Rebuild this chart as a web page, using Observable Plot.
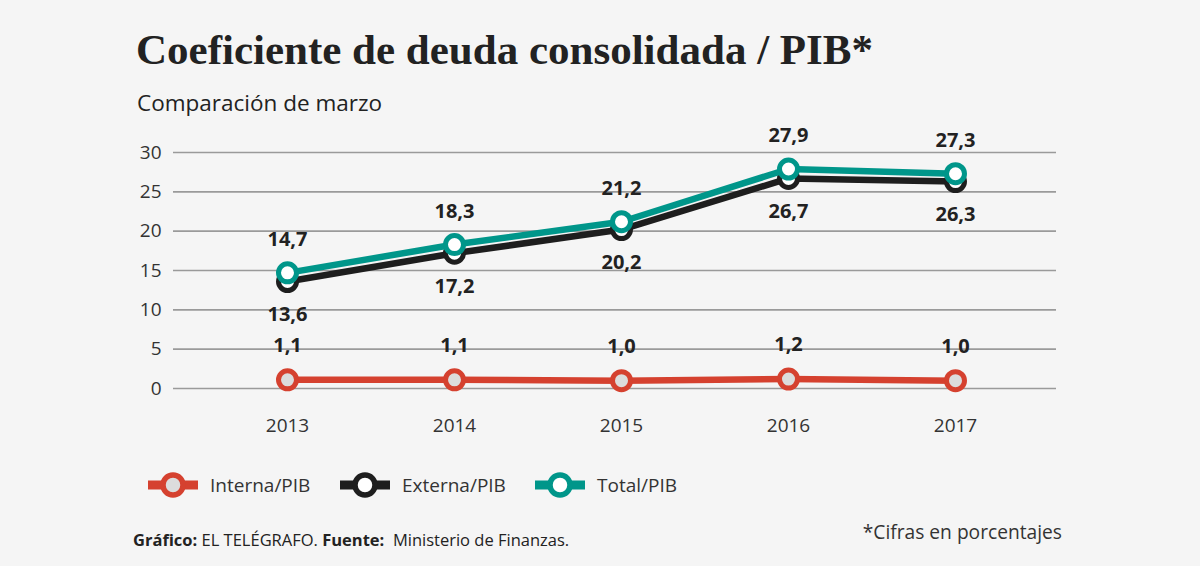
<!DOCTYPE html>
<html><head><meta charset="utf-8">
<script src="https://cdn.jsdelivr.net/npm/d3@7"></script>
<script src="https://cdn.jsdelivr.net/npm/@observablehq/plot@0.6"></script>
<style>
html,body{margin:0;padding:0;background:#f5f5f5;}
#wrap{position:relative;width:1200px;height:566px;overflow:hidden;background:#f5f5f5;font-family:"Open Sans",sans-serif;color:#222;}
#title{position:absolute;left:136px;top:28px;font-family:"Liberation Serif",serif;font-weight:bold;font-size:43px;line-height:1;color:#222;white-space:nowrap;}
#subtitle{position:absolute;left:137px;top:87px;font-size:22.5px;color:#222;white-space:nowrap;}
#chart{position:absolute;left:0;top:120px;}
#legend{position:absolute;left:0;top:470px;width:1200px;height:30px;}
.li{position:absolute;top:0;height:30px;display:flex;align-items:center;font-size:19px;color:#333;}
.li svg{margin-right:12px;}
#source{position:absolute;left:133px;top:528px;font-size:16.5px;color:#222;white-space:nowrap;}
#note{position:absolute;right:138px;top:518px;font-size:19.2px;color:#333;white-space:nowrap;}
</style></head>
<body><div id="wrap">
<div id="title">Coeficiente de deuda consolidada / PIB*</div>
<div id="subtitle">Comparación de marzo</div>
<div id="chart"></div>
<div id="legend"></div>
<div id="source"><b>Gráfico:</b> EL TELÉGRAFO. <b>Fuente:</b>&nbsp; Ministerio de Finanzas.</div>
<div id="note">*Cifras en porcentajes</div>
</div>
<script>
const years = [2013, 2014, 2015, 2016, 2017];
const interna = [1.1, 1.1, 1.0, 1.2, 1.0];
const externa = [13.6, 17.2, 20.2, 26.7, 26.3];
const total = [14.7, 18.3, 21.2, 27.9, 27.3];
const yTicks = [0, 5, 10, 15, 20, 25, 30];
const seriesNames = ["Interna/PIB", "Externa/PIB", "Total/PIB"];
const colors = {"Interna/PIB": "#d5412f", "Externa/PIB": "#1e1e1e", "Total/PIB": "#00968a"};
const fills = {"Interna/PIB": "#dcdcdc", "Externa/PIB": "#ffffff", "Total/PIB": "#ffffff"};

const rows = (name, vals) => years.map((y, i) => ({year: y, value: vals[i], series: name}));
const dInt = rows("Interna/PIB", interna);
const dExt = rows("Externa/PIB", externa);
const dTot = rows("Total/PIB", total);
const fmt = v => v.toFixed(1).replace(".", ",");

const lineMarks = (data, name) => [
  Plot.line(data, {x: "year", y: "value", stroke: colors[name], strokeWidth: 6.5}),
  Plot.dot(data, {x: "year", y: "value", r: 9, stroke: colors[name], strokeWidth: 5, fill: fills[name]})
];

const plot = Plot.plot({
  width: 1200, height: 330,
  marginLeft: 173, marginRight: 144, marginTop: 32, marginBottom: 62,
  style: {background: "transparent", fontFamily: "Open Sans, sans-serif"},
  x: {type: "point", domain: years, range: [287, 955], padding: 0, label: null},
  y: {domain: [0, 30], label: null},
  marks: [
    Plot.ruleY(yTicks, {stroke: "#9a9a9a", strokeWidth: 1.6}),
    Plot.axisY({ticks: yTicks, tickSize: 0, tickPadding: 12, fontSize: 19, fill: "#333", label: null}),
    Plot.axisX({tickSize: 0, tickPadding: 30, fontSize: 19, fill: "#333", label: null, tickFormat: d => String(d)}),
    ...lineMarks(dInt, "Interna/PIB"),
    ...lineMarks(dExt, "Externa/PIB"),
    ...lineMarks(dTot, "Total/PIB"),
    Plot.text(dTot, {x: "year", y: "value", text: d => fmt(d.value), dy: -33, fontSize: 20, fontWeight: "bold", fill: "#222"}),
    Plot.text(dExt, {x: "year", y: "value", text: d => fmt(d.value), dy: 33, fontSize: 20, fontWeight: "bold", fill: "#222"}),
    Plot.text(dInt, {x: "year", y: "value", text: d => fmt(d.value), dy: -34, fontSize: 20, fontWeight: "bold", fill: "#222"})
  ]
});
document.getElementById("chart").appendChild(plot);

// legend
const legendPos = [148, 340, 535];
const leg = document.getElementById("legend");
seriesNames.forEach((name, i) => {
  const div = document.createElement("div");
  div.className = "li";
  div.style.left = legendPos[i] + "px";
  div.innerHTML = `<svg width="50" height="30"><line x1="0" x2="50" y1="15" y2="15" stroke="${colors[name]}" stroke-width="9"/><circle cx="25" cy="15" r="10" fill="${fills[name]}" stroke="${colors[name]}" stroke-width="5.5"/></svg><span>${name}</span>`;
  leg.appendChild(div);
});
</script>
</body></html>
